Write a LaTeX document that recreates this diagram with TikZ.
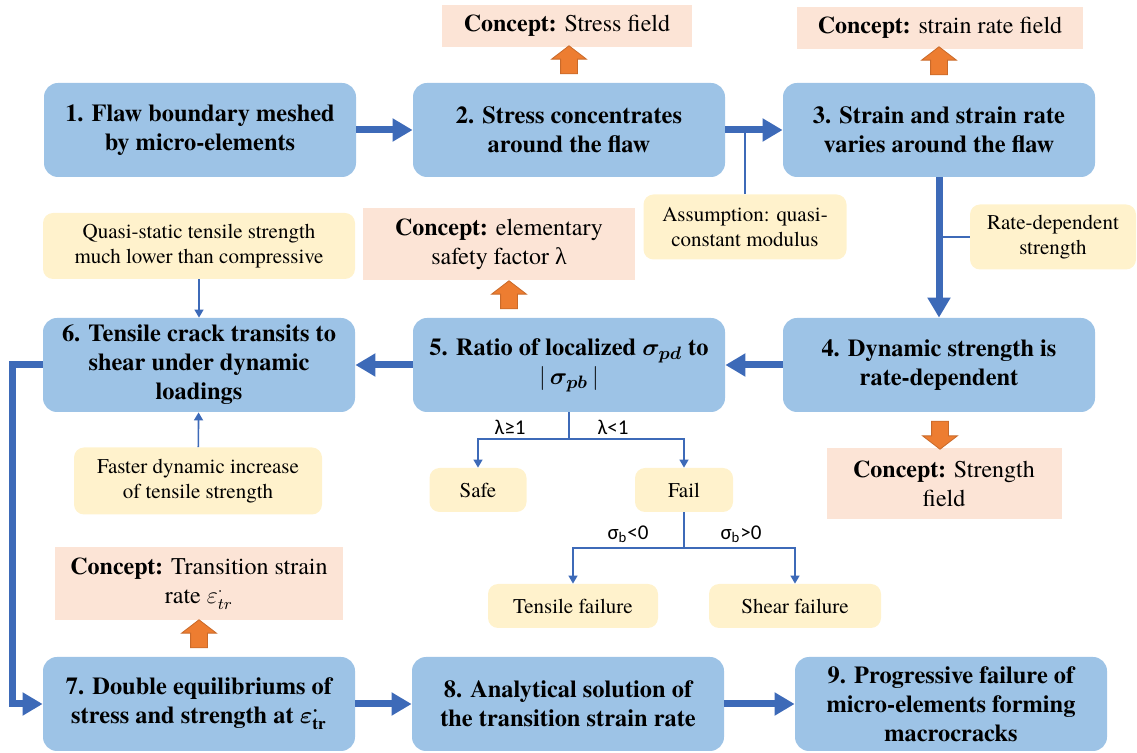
\documentclass[tikz,border=0pt]{standalone}
\usepackage{amsmath,amssymb}
\usepackage{fontspec}
\setmainfont{texgyretermes}[Extension=.otf, UprightFont=*-regular, BoldFont=*-bold, ItalicFont=*-italic, BoldItalicFont=*-bolditalic]
\newfontfamily\lblfont{Carlito}
\newfontfamily\grkfont{Liberation Serif}
\usepackage{xcolor}
\usepackage{tikz}
\usetikzlibrary{arrows.meta,shapes.arrows}

\definecolor{boxblue}{RGB}{157,195,230}
\definecolor{linkblue}{RGB}{61,106,184}
\definecolor{conceptpink}{RGB}{252,228,214}
\definecolor{noteyellow}{RGB}{255,242,204}
\definecolor{arrorange}{RGB}{237,125,49}

\begin{document}
\begin{tikzpicture}[
  x=0.5pt, y=-0.5pt,
  box/.style={fill=boxblue, rounded corners=7pt, align=center, minimum width=156pt, minimum height=47pt, inner sep=2pt, font=\fontsize{12.2}{14.5}\selectfont\bfseries},
  concept/.style={fill=conceptpink, align=center, inner sep=2pt, font=\fontsize{12}{14.5}\selectfont},
  note/.style={fill=noteyellow, rounded corners=5pt, align=center, inner sep=2pt, font=\fontsize{10.5}{12.5}\selectfont},
  arr/.style={-{Triangle[length=10pt,width=11pt]}, line width=3.5pt, draw=linkblue},
  arrthin/.style={-{Triangle[length=4pt,width=4.5pt]}, line width=0.8pt, draw=linkblue},
  link/.style={line width=0.8pt, draw=linkblue},
  blk/.style={single arrow, fill=arrorange, draw=arrorange!85!black, line width=0.4pt, inner sep=4pt, minimum height=14pt, single arrow head extend=4.5pt, single arrow tip angle=105},
  upblk/.style={blk, shape border rotate=90},
  downblk/.style={blk, shape border rotate=270},
  lbl/.style={font=\lblfont\fontsize{10.5}{12}\selectfont}
]
  \useasboundingbox (0,0) rectangle (1137,753);

  % main steps
  \node[box] (b1) at (200,130) {1. Flaw boundary meshed\\by micro-elements};
  \node[box] (b2) at (569,130) {2. Stress concentrates\\around the flaw};
  \node[box] (b3) at (939,130) {3. Strain and strain rate\\varies around the flaw};
  \node[box] (b4) at (939,365) {4. Dynamic strength is\\rate-dependent};
  \node[box] (b5) at (569,365) {5. Ratio of localized $\boldsymbol{\sigma_{pd}}$ to\\$|\,\boldsymbol{\sigma_{pb}}\,|$};
  \node[box] (b6) at (199,365) {6. Tensile crack transits to\\shear under dynamic\\loadings};
  \node[box] (b7) at (199,704) {7. Double equilibriums of\\stress and strength at $\boldsymbol{\varepsilon}^{\boldsymbol{\cdot}}_{\mathbf{tr}}$};
  \node[box] (b8) at (568,704) {8. Analytical solution of\\the transition strain rate};
  \node[box] (b9) at (951,704) {9. Progressive failure of\\micro-elements forming\\macrocracks};

  \draw[arr] (b1) -- (b2);
  \draw[arr] (b2) -- (b3);
  \draw[arr] (b3) -- (b4);
  \draw[arr] (b4) -- (b5);
  \draw[arr] (b5) -- (b6);
  \draw[arr] (b6.west) -- ++(-30,0) |- (b7.west);
  \draw[arr] (b7) -- (b8);
  \draw[arr] (b8) -- (b9);

  % concepts
  \node[concept, minimum width=125pt, minimum height=21pt] (c2) at (567,26) {\textbf{Concept:} Stress field};
  \node[concept, minimum width=143pt, minimum height=21pt] (c3) at (940,28) {\textbf{Concept:} strain rate field};
  \node[concept, minimum width=136pt, minimum height=36pt] (c5) at (499,244) {\textbf{Concept:} elementary\\safety factor {\grkfont λ}};
  \node[concept, minimum width=117.5pt, minimum height=35.5pt] (c4) at (944,484) {\textbf{Concept:} Strength\\field};
  \node[concept, minimum width=144pt, minimum height=36.5pt] (c7) at (199,584) {\textbf{Concept:} Transition strain\\rate $\varepsilon^{\cdot}_{tr}$};

  \node[upblk] (a2) at (569,63) {};
  \node[upblk] (a3) at (939,64) {};
  \node[upblk] (a5) at (509,298) {};
  \node[downblk] (a4) at (940,432) {};
  \node[upblk] (a7) at (199,637) {};

  % notes
  \node[note, minimum width=101.5pt, minimum height=32.5pt] (asm) at (745,227) {Assumption: quasi-\\constant modulus};
  \node[note, minimum width=83pt, minimum height=32.5pt] (rate) at (1053,237) {Rate-dependent\\strength};
  \node[note, minimum width=156pt, minimum height=33pt] (quasi) at (199,246) {Quasi-static tensile strength\\much lower than compressive};
  \node[note, minimum width=124pt, minimum height=33.5pt] (faster) at (198,481) {Faster dynamic increase\\of tensile strength};

  \draw[link] (asm.north) -- (asm.north |- b2.east);
  \draw[link] (rate.west) -- (rate.west -| b3.south);
  \draw[arrthin] (quasi) -- (b6);
  \draw[arrthin] (faster) -- (b6);

  % outcomes
  \node[note, minimum width=48.5pt, minimum height=22pt] (safe) at (478,490) {Safe};
  \node[note, minimum width=49pt, minimum height=22pt] (fail) at (684,490) {Fail};
  \node[note, minimum width=85pt, minimum height=22pt] (tens) at (573,606) {Tensile failure};
  \node[note, minimum width=86pt, minimum height=22pt] (shear) at (795,606) {Shear failure};

  \coordinate (j5) at (569,439);
  \draw[link] (b5.south) -- (j5);
  \draw[arrthin] (j5) -| (safe.north);
  \draw[arrthin] (j5) -| (fail.north);
  \node[lbl] (l1) at (510,427) {λ≥1};
  \node[lbl] (l2) at (613,427) {λ<1};

  \coordinate (jf) at (684,548);
  \draw[link] (fail.south) -- (jf);
  \draw[arrthin] (jf) -| (tens.north);
  \draw[arrthin] (jf) -| (shear.north);
  \node[lbl] (l3) at (628,534) {σ\textsubscript{b}<0};
  \node[lbl] (l4) at (741,534) {σ\textsubscript{b}>0};
\end{tikzpicture}
\end{document}
